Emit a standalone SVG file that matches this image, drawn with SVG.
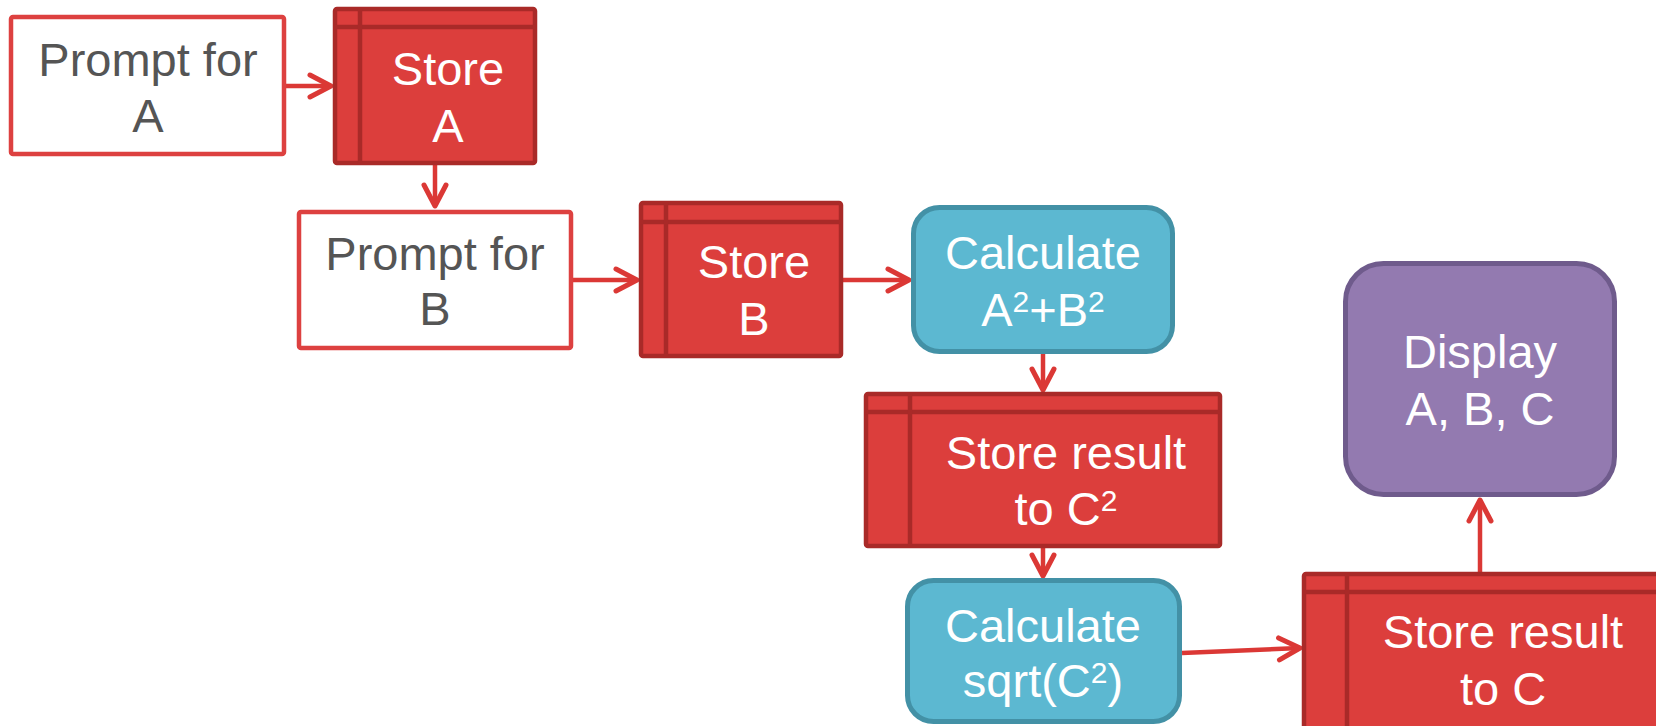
<svg xmlns="http://www.w3.org/2000/svg" width="1656" height="726" viewBox="0 0 1656 726">
<style>
text{font-family:"Liberation Sans",Arial,sans-serif;font-size:47px;text-anchor:middle}
.sup{font-size:30px}
.prompt{fill:#fff;stroke:#DD4140;stroke-width:4.5}
.ptxt{fill:#555555}
.store{fill:#DC3E3C;stroke:#A92A28;stroke-width:4.5}
.sline{stroke:#A92A28;stroke-width:4.5;fill:none}
.calc{fill:#5CB8D1;stroke:#4391A6;stroke-width:5}
.disp{fill:#937AB0;stroke:#6F5B8C;stroke-width:5}
.wtxt{fill:#fff}
.conn{stroke:#DB3835;stroke-width:4.5;fill:none;marker-end:url(#arr)}
</style>
<defs>
<marker id="arr" markerUnits="userSpaceOnUse" markerWidth="40" markerHeight="40" refX="0" refY="0" viewBox="-30 -20 40 40" orient="auto" overflow="visible">
<path d="M-21,-11 L0,0 L-21,11" fill="none" stroke="#DB3835" stroke-width="5" stroke-linecap="round" stroke-linejoin="round"/>
</marker>
</defs>
<g id="connectors">
<line class="conn" x1="286" y1="86" x2="331" y2="86"/>
<line class="conn" x1="435" y1="165" x2="435" y2="206"/>
<line class="conn" x1="573" y1="280" x2="637" y2="280"/>
<line class="conn" x1="843" y1="280" x2="909" y2="280"/>
<line class="conn" x1="1043" y1="354" x2="1043" y2="390"/>
<line class="conn" x1="1043" y1="548" x2="1043" y2="576"/>
<line class="conn" x1="1182" y1="653" x2="1300" y2="648"/>
<line class="conn" x1="1480" y1="572" x2="1480" y2="500"/>
</g>
<g id="promptA">
<rect class="prompt" x="11" y="17" width="273" height="137" rx="2"/>
<text class="ptxt" x="148" y="76">Prompt for</text>
<text class="ptxt" x="148" y="132">A</text>
</g>
<g id="storeA">
<rect class="store" x="335" y="9" width="200" height="154" rx="2"/>
<line class="sline" x1="335" y1="27" x2="535" y2="27"/>
<line class="sline" x1="360" y1="9" x2="360" y2="163"/>
<text class="wtxt" x="448" y="85">Store</text>
<text class="wtxt" x="448" y="142">A</text>
</g>
<g id="promptB">
<rect class="prompt" x="299" y="212" width="272" height="136" rx="2"/>
<text class="ptxt" x="435" y="270">Prompt for</text>
<text class="ptxt" x="435" y="325">B</text>
</g>
<g id="storeB">
<rect class="store" x="641" y="203" width="200" height="153" rx="2"/>
<line class="sline" x1="641" y1="222" x2="841" y2="222"/>
<line class="sline" x1="666" y1="203" x2="666" y2="356"/>
<text class="wtxt" x="754" y="278">Store</text>
<text class="wtxt" x="754" y="335">B</text>
</g>
<g id="calcAB">
<rect class="calc" x="913.5" y="207.5" width="259" height="144" rx="26"/>
<text class="wtxt" x="1043" y="269">Calculate</text>
<text class="wtxt" x="1043" y="326">A<tspan class="sup" dy="-14">2</tspan><tspan dy="14">+B</tspan><tspan class="sup" dy="-14">2</tspan></text>
</g>
<g id="storeC2">
<rect class="store" x="866" y="394" width="354" height="152" rx="2"/>
<line class="sline" x1="866" y1="412" x2="1220" y2="412"/>
<line class="sline" x1="910" y1="394" x2="910" y2="546"/>
<text class="wtxt" x="1066" y="469">Store result</text>
<text class="wtxt" x="1066" y="525">to C<tspan class="sup" dy="-14">2</tspan></text>
</g>
<g id="calcSqrt">
<rect class="calc" x="907.5" y="580.5" width="272" height="141" rx="26"/>
<text class="wtxt" x="1043" y="642">Calculate</text>
<text class="wtxt" x="1043" y="697">sqrt(C<tspan class="sup" dy="-14">2</tspan><tspan dy="14">)</tspan></text>
</g>
<g id="storeC">
<rect class="store" x="1304" y="574" width="360" height="160" rx="2"/>
<line class="sline" x1="1304" y1="592" x2="1664" y2="592"/>
<line class="sline" x1="1347" y1="574" x2="1347" y2="734"/>
<text class="wtxt" x="1503" y="648">Store result</text>
<text class="wtxt" x="1503" y="705">to C</text>
</g>
<g id="display">
<rect class="disp" x="1345.5" y="263.5" width="269" height="231" rx="38"/>
<text class="wtxt" x="1480" y="368">Display</text>
<text class="wtxt" x="1480" y="425">A, B, C</text>
</g>
</svg>
